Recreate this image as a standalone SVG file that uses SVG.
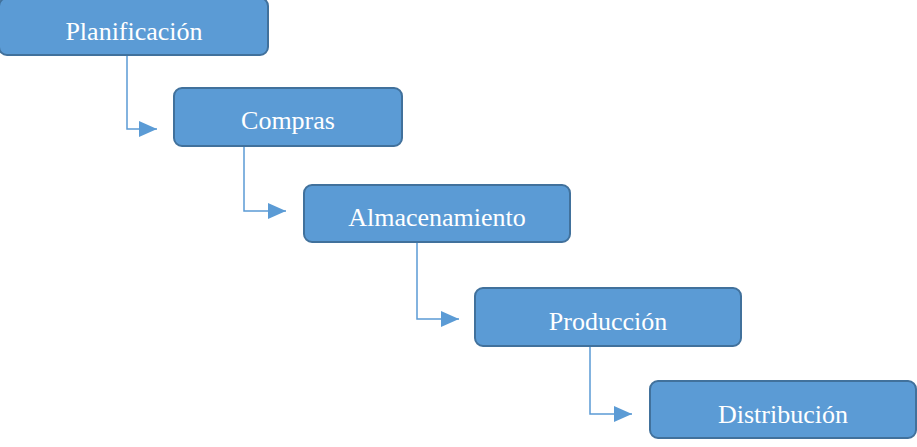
<svg xmlns="http://www.w3.org/2000/svg" width="917" height="447" viewBox="0 0 917 447">
<style>
.box{fill:#5B9BD5;stroke:#41719C;stroke-width:2}
.lbl{fill:#FFFFFF;font-family:"Liberation Serif","Times New Roman",serif;font-size:26px;text-anchor:middle}
.conn{fill:none;stroke:#5B9BD5;stroke-width:1.5}
</style>
<defs>
<marker id="arr" markerUnits="userSpaceOnUse" markerWidth="18" markerHeight="16" refX="18" refY="8" orient="auto">
<path d="M0,0 L18,8 L0,16 z" fill="#5B9BD5"/>
</marker>
</defs>
<rect width="917" height="447" fill="#FFFFFF"/>
<g id="connectors">
<path class="conn" d="M127,55 V129 H157" marker-end="url(#arr)"/>
<path class="conn" d="M244,146 V211 H286" marker-end="url(#arr)"/>
<path class="conn" d="M417,242 V319 H459" marker-end="url(#arr)"/>
<path class="conn" d="M590,346 V414 H632" marker-end="url(#arr)"/>
</g>
<g id="planificacion">
<rect class="box" x="-1" y="-2" width="269" height="57" rx="8"/>
<text class="lbl" x="134" y="40">Planificación</text>
</g>
<g id="compras">
<rect class="box" x="174" y="88" width="228" height="58" rx="8"/>
<text class="lbl" x="288" y="129">Compras</text>
</g>
<g id="almacenamiento">
<rect class="box" x="304" y="185" width="266" height="57" rx="8"/>
<text class="lbl" x="437" y="226">Almacenamiento</text>
</g>
<g id="produccion">
<rect class="box" x="475" y="288" width="266" height="58" rx="8"/>
<text class="lbl" x="608" y="330">Producción</text>
</g>
<g id="distribucion">
<rect class="box" x="650" y="381" width="266" height="57" rx="8"/>
<text class="lbl" x="783" y="423">Distribución</text>
</g>
</svg>
